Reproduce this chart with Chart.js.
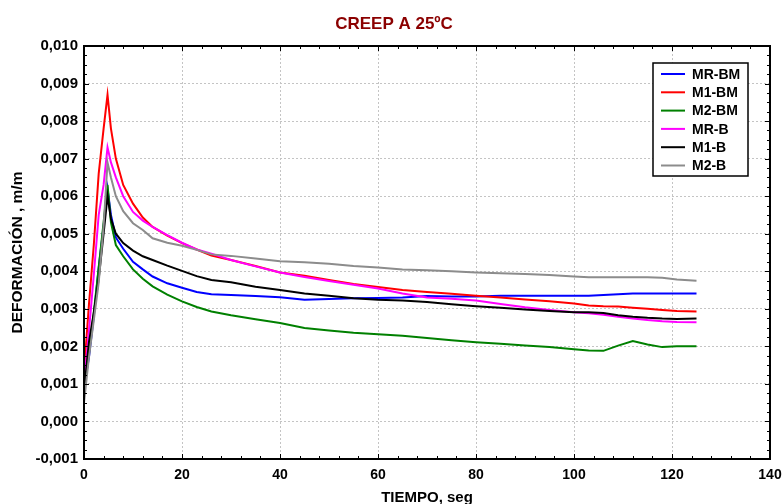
<!DOCTYPE html>
<html>
<head>
<meta charset="utf-8">
<script src="https://cdn.jsdelivr.net/npm/chart.js@4.4.0/dist/chart.umd.min.js"></script>
<style>
  html, body { margin: 0; padding: 0; background: #fff; }
</style>
</head>
<body>
<canvas id="creep" width="783" height="504"></canvas>
<script>
const FONT = '"Liberation Sans", Arial, sans-serif';

// tiempo (seg), comun a todas las series
const TIME = [0, 1, 2, 3, 4, 4.8, 5.5, 6.5, 8, 10, 12, 14, 17, 20, 23, 26, 30, 35, 40, 45, 50,
  55, 60, 65, 70, 75, 80, 85, 90, 95, 100, 103, 106, 109, 112, 115, 118, 121, 125];

const MR_BM = [0.0009, 0.0017, 0.0028, 0.0041, 0.0052, 0.0062, 0.0055, 0.0049, 0.0046, 0.00425,
  0.00405, 0.00386, 0.00368, 0.00356, 0.00345, 0.00339, 0.00337, 0.00334, 0.00331, 0.00324,
  0.00326, 0.00328, 0.00329, 0.0033, 0.00334, 0.00333, 0.00333, 0.00335, 0.00335, 0.00335,
  0.00335, 0.00335, 0.00337, 0.00339, 0.00341, 0.00341, 0.00341, 0.00341, 0.00341];
const M1_BM = [0.0013, 0.0031, 0.0047, 0.0066, 0.0078, 0.0087, 0.0078, 0.0070, 0.0063, 0.0058,
  0.00543, 0.00518, 0.00495, 0.00475, 0.00458, 0.00442, 0.0043, 0.00414, 0.00397, 0.00388,
  0.00377, 0.00366, 0.00358, 0.0035, 0.00345, 0.0034, 0.00335, 0.0033, 0.00325, 0.0032,
  0.00314, 0.00309, 0.00307, 0.00306, 0.00303, 0.003, 0.00297, 0.00294, 0.00293];
const M2_BM = [0.0009, 0.0018, 0.0029, 0.0041, 0.0053, 0.0063, 0.0053, 0.0047, 0.0044, 0.00405,
  0.0038, 0.0036, 0.00338, 0.0032, 0.00305, 0.00293, 0.00283, 0.00272, 0.00262, 0.00249,
  0.00242, 0.00236, 0.00232, 0.00228, 0.00222, 0.00216, 0.00211, 0.00207, 0.00202, 0.00198,
  0.00192, 0.00189, 0.00188, 0.00202, 0.00214, 0.00205, 0.00198, 0.002, 0.002];
const MR_B = [0.0010, 0.0024, 0.0039, 0.0055, 0.0063, 0.0073, 0.0069, 0.0065, 0.0060, 0.00558,
  0.00535, 0.00518, 0.00496, 0.00476, 0.00458, 0.00447, 0.0043, 0.00413, 0.00397, 0.00385,
  0.00374, 0.00364, 0.00354, 0.00341, 0.0033, 0.00327, 0.00322, 0.00313, 0.00304, 0.00297,
  0.00291, 0.00288, 0.00284, 0.00279, 0.00274, 0.0027, 0.00267, 0.00265, 0.00264];
const M1_B = [0.0008, 0.0021, 0.0029, 0.0038, 0.0050, 0.0060, 0.0054, 0.0050, 0.00475, 0.00455,
  0.0044, 0.0043, 0.00415, 0.00401, 0.00387, 0.00377, 0.00371, 0.00359, 0.0035, 0.00341,
  0.00335, 0.00328, 0.00324, 0.00322, 0.00318, 0.00312, 0.00307, 0.00303, 0.00298, 0.00294,
  0.00291, 0.00291, 0.00289, 0.00283, 0.00279, 0.00276, 0.00274, 0.00273, 0.00274];
const M2_B = [0.0005, 0.0017, 0.0027, 0.0037, 0.0052, 0.0069, 0.0065, 0.0060, 0.0056, 0.00528,
  0.0051, 0.00488, 0.00476, 0.00468, 0.00457, 0.00445, 0.00441, 0.00434, 0.00427, 0.00424,
  0.0042, 0.00414, 0.0041, 0.00405, 0.00403, 0.004, 0.00397, 0.00395, 0.00393, 0.0039,
  0.00386, 0.00384, 0.00384, 0.00384, 0.00384, 0.00384, 0.00383, 0.00378, 0.00375];

const LABELS = ['MR-BM', 'M1-BM', 'M2-BM', 'MR-B', 'M1-B', 'M2-B'];
const COLORS = ['#0000ff', '#ff0000', '#008000', '#ff00ff', '#000000', '#8c8c8c'];
const X_TICKS = [0, 20, 40, 60, 80, 100, 120, 140];
const Y_TICKS = [-0.001, 0, 0.001, 0.002, 0.003, 0.004, 0.005, 0.006, 0.007, 0.008, 0.009, 0.010];

const series = [MR_BM, M1_BM, M2_BM, MR_B, M1_B, M2_B];

const fmtY = (v) => (Math.abs(v) < 1e-9 ? '0,000' : v.toFixed(3).replace('.', ','));

// marco negro, marcas hacia dentro y leyenda en recuadro
const framePlugin = {
  id: 'frame',
  afterDraw(chart) {
    const { ctx, chartArea: a, scales } = chart;
    ctx.save();
    ctx.strokeStyle = '#000';
    ctx.lineWidth = 1;
    ctx.beginPath();
    for (let v = 0; v <= 140; v += 4) {
      const px = Math.round(scales.x.getPixelForValue(v)) + 0.5;
      const len = v % 20 === 0 ? 5 : 3;
      ctx.moveTo(px, a.bottom); ctx.lineTo(px, a.bottom - len);
      ctx.moveTo(px, a.top); ctx.lineTo(px, a.top + len);
    }
    for (let i = 0; i <= 44; i++) {
      const v = -0.001 + i * 0.00025;
      const py = Math.round(scales.y.getPixelForValue(v)) + 0.5;
      const len = i % 4 === 0 ? 5 : 3;
      ctx.moveTo(a.left, py); ctx.lineTo(a.left + len, py);
      ctx.moveTo(a.right, py); ctx.lineTo(a.right - len, py);
    }
    ctx.stroke();

    ctx.lineWidth = 2;
    ctx.strokeRect(a.left, a.top, a.right - a.left, a.bottom - a.top);

    // leyenda
    const lx = a.right - 117, ly = a.top + 17, lw = 95, lh = 113;
    ctx.fillStyle = '#fff';
    ctx.fillRect(lx, ly, lw, lh);
    ctx.lineWidth = 1.5;
    ctx.strokeRect(lx, ly, lw, lh);
    ctx.font = 'bold 14px ' + FONT;
    ctx.textBaseline = 'middle';
    chart.data.datasets.forEach((ds, i) => {
      const y = ly + 11 + i * 18.3;
      ctx.strokeStyle = ds.borderColor;
      ctx.lineWidth = 2;
      ctx.beginPath();
      ctx.moveTo(lx + 8, y); ctx.lineTo(lx + 32, y);
      ctx.stroke();
      ctx.fillStyle = '#000';
      ctx.fillText(ds.label, lx + 39, y + 1);
    });
    ctx.restore();
  },
};

new Chart(document.getElementById('creep'), {
  type: 'line',
  data: {
    datasets: series.map((vals, i) => ({
      label: LABELS[i],
      data: TIME.map((t, k) => ({ x: t, y: vals[k] })),
      borderColor: COLORS[i],
      borderWidth: 2,
      pointRadius: 0,
      tension: 0,
      fill: false,
      order: series.length - i,
    })),
  },
  options: {
    responsive: false,
    animation: false,
    layout: { padding: { left: 18, right: 13, top: 0, bottom: 0 } },
    plugins: {
      legend: { display: false },
      tooltip: { enabled: false },
      title: {
        display: true,
        text: 'CREEP A 25ºC',
        color: '#8b0000',
        font: { family: FONT, size: 17, weight: 'bold', lineHeight: 1.2 },
        padding: { top: 14, bottom: 11.6 },
      },
    },
    scales: {
      x: {
        type: 'linear',
        min: 0,
        max: 140,
        afterBuildTicks: (s) => { s.ticks = X_TICKS.map((v) => ({ value: v })); },
        afterFit: (s) => { s.height = 45; s.paddingLeft = 0; s.paddingRight = 0; },
        ticks: {
          color: '#000',
          padding: 8,
          maxRotation: 0,
          autoSkip: false,
          font: { family: FONT, size: 14, weight: 'bold' },
        },
        grid: { color: '#c4c4c4', lineWidth: 1, drawTicks: false },
        border: { display: false, dash: [2, 2] },
        title: {
          display: true,
          text: 'TIEMPO, seg',
          color: '#000',
          font: { family: FONT, size: 15, weight: 'bold', lineHeight: 1.2 },
          padding: { top: 0, bottom: -3 },
        },
      },
      y: {
        type: 'linear',
        min: -0.001,
        max: 0.010,
        afterBuildTicks: (s) => { s.ticks = Y_TICKS.map((v) => ({ value: v })); },
        afterFit: (s) => { s.width = 66; },
        ticks: {
          color: '#000',
          padding: 6,
          callback: (v) => fmtY(v),
          font: { family: FONT, size: 15, weight: 'bold' },
        },
        grid: { color: '#c4c4c4', lineWidth: 1, drawTicks: false },
        border: { display: false, dash: [2, 2] },
        title: {
          display: true,
          text: 'DEFORMACIÓN , m/m',
          color: '#000',
          font: { family: FONT, size: 15.5, weight: 'bold', lineHeight: 1.2 },
          padding: { top: -9.3, bottom: 0 },
        },
      },
    },
  },
  plugins: [framePlugin],
});
</script>
</body>
</html>
